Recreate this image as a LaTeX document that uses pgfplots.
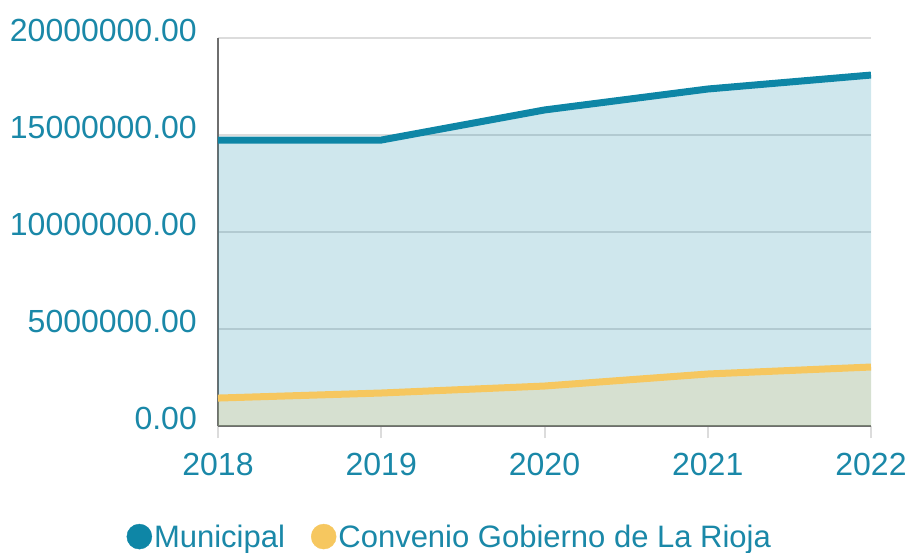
\documentclass[border=0pt]{standalone}
\usepackage{fontspec}
\setmainfont{Liberation Sans}
\usepackage{pgfplots}
\pgfplotsset{compat=1.18}
\definecolor{tealc}{HTML}{0E86A6}
\definecolor{txtc}{HTML}{1A88A8}
\definecolor{yelc}{HTML}{F6C75F}
\definecolor{gridc}{HTML}{DCDCDC}
\definecolor{axc}{HTML}{6E6E6E}
\begin{document}
\begin{tikzpicture}
\path[use as bounding box] (-218pt,-127pt) rectangle (691pt,426pt);
\begin{axis}[
  scale only axis, width=653pt, height=388pt,
  xmin=2018, xmax=2022, ymin=0, ymax=20000000,
  axis x line=bottom, axis y line=left,
  axis line style={-, axc, line width=1.5pt},
  xtick={2018,2019,2020,2021,2022},
  xticklabels={2018,2019,2020,2021,2022},
  ytick={0,5000000,10000000,15000000,20000000},
  yticklabels={0.00,5000000.00,10000000.00,15000000.00,20000000.00},
  scaled y ticks=false,
  y tick style={draw=none},
  x tick style={gridc, line width=2pt},
  tick align=outside, major tick length=12pt,
  ymajorgrids, grid style={gridc, line width=1.5pt},
  tick label style={font=\fontsize{32}{38}\selectfont, text=txtc},
  yticklabel style={anchor=east, inner sep=0pt, xshift=-9pt, yshift=8pt},
  xticklabel style={anchor=north, inner sep=0pt, yshift=-15pt},
  legend style={at={(0.355,-0.285)}, anchor=center, draw=none, fill=none,
    legend columns=2, font=\fontsize{31}{37}\selectfont, text=txtc,
    inner sep=0pt, nodes={inner sep=2pt},
    /tikz/every even column/.append style={column sep=24pt}},
  legend cell align=left,
]
\addplot[forget plot, draw=none, fill=tealc, fill opacity=0.2] coordinates {
  (2018,14740000) (2019,14740000) (2020,16290000) (2021,17370000) (2022,18090000)} \closedcycle;
\addplot[forget plot, draw=none, fill=yelc, fill opacity=0.2] coordinates {
  (2018,1440000) (2019,1700000) (2020,2060000) (2021,2680000) (2022,3040000)} \closedcycle;
\addplot[forget plot, tealc, line width=7pt] coordinates {
  (2018,14740000) (2019,14740000) (2020,16290000) (2021,17370000) (2022,18090000)};
\addplot[forget plot, yelc, line width=7pt] coordinates {
  (2018,1440000) (2019,1700000) (2020,2060000) (2021,2680000) (2022,3040000)};
\addlegendimage{legend image code/.code={\fill[tealc] (12.5pt,0pt) circle (12.5pt);}}
\addlegendentry{Municipal}
\addlegendimage{legend image code/.code={\fill[yelc] (12.5pt,0pt) circle (12.5pt);}}
\addlegendentry{Convenio Gobierno de La Rioja}
\end{axis}
\end{tikzpicture}
\end{document}
